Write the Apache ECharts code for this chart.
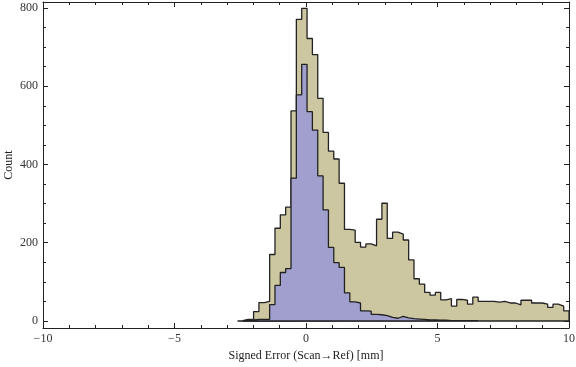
<!DOCTYPE html>
<html><head><meta charset="utf-8">
<script src="https://cdn.jsdelivr.net/npm/echarts@6/dist/echarts.min.js"></script>
<style>html,body{margin:0;padding:0;background:#fff}#c{width:576px;height:367px}</style>
</head><body><div id="c"></div>
<script>
// ---- data ----
const binStart = -2.603;      // left edge of first bin (mm)
const binWidth = 0.2033;      // bin width (mm)
// all-points histogram (tan)
const tanCounts = [1,4,5,24,47,50,170,237,271,291,
  537,771,799,722,681,569,482,434,414,352,
  234,232,201,189,197,192,260,301,211,227,
  222,207,156,108,94,73,66,73,54,57,
  38,55,53,43,61,50,50,50,48,50,
  46,46,41,53,53,46,46,43,35,43,
  38,26];
// subset histogram (blue), starts at bin index 1
const blueStartBin = 1;
const blueCounts = [2,3,4,4,4,42,91,124,134,
  365,578,656,535,488,371,284,188,149,137,
  72,49,46,26,25,17,16,14,9,7,
  12,8,6,5,4,3,3,2,2,1,
  1,1,1,1,1];
const xTicks = [-10,-5,0,5,10];
const yTicks = [0,200,400,600,800];
const yMinorTicks = [50,100,150,250,300,350,450,500,550,650,700,750];
const xName = 'Signed Error (Scan\u2192Ref) [mm]';
const yName = 'Count';

// ---- build step paths ----
function stepPts(start, counts, close){
  const pts = [[start, 0]];
  counts.forEach((c,i)=>pts.push([start + i*binWidth, c]));
  const end = start + counts.length*binWidth;
  pts.push([end, counts[counts.length-1]]);
  pts.push([end, 0]);
  if (close) pts.push([start, 0]);
  return pts;
}
const tanStart = binStart;
const blueStart = binStart + blueStartBin*binWidth;

const font = 'Liberation Serif';
const ink = '#222';
const fmtX = v => v < 0 ? '\u2212' + Math.abs(v) : String(v);

function xAx(pos, labels){
  return {type:'value', position:pos, min:-10, max:10, interval:5, z:10,
    axisLine:{show:true, onZero:false, lineStyle:{color:ink, width:1}},
    axisTick:{show:true, inside:true, length:5, lineStyle:{color:ink}},
    minorTick:{show:true, splitNumber:5, length:3, lineStyle:{color:ink}},
    splitLine:{show:false}, minorSplitLine:{show:false},
    axisLabel:{show:labels, formatter:fmtX, fontFamily:font, fontSize:12, color:'#333', margin:5},
    name: labels ? xName : '', nameLocation:'middle', nameGap:20,
    nameTextStyle:{fontFamily:font, fontSize:12, color:'#222'}};
}
function yAx(pos, labels, ticks, len, line){
  return {type:'value', position:pos, min:-17.9, max:815.3, z:10,
    axisLine:{show:line, onZero:false, lineStyle:{color:ink, width:1}},
    axisTick:{show:true, inside:true, length:len, customValues:ticks, lineStyle:{color:ink}},
    splitLine:{show:false},
    axisLabel:{show:labels, customValues:yTicks, fontFamily:font, fontSize:12, color:'#333', margin:5},
    name: labels ? yName : '', nameLocation:'middle', nameGap:28, nameRotate:90, nameMoveOverlap:false,
    nameTextStyle:{fontFamily:font, fontSize:12, color:'#222'}};
}

const chart = echarts.init(document.getElementById('c'), null, {renderer:'canvas'});
const fillS = (pts, color) => ({type:'line', data:pts, step:'end', symbol:'none', silent:true,
  lineStyle:{width:0, opacity:0}, areaStyle:{color:color, opacity:1, origin:'auto'}, z:2});
const lineS = (pts) => ({type:'line', data:pts, step:'end', symbol:'none', silent:true,
  lineStyle:{width:1.3, color:'#222'}, z:3});
chart.setOption({
  animation:false,
  backgroundColor:'#fff',
  grid:{left:43, right:7, top:2, bottom:39, containLabel:false, outerBoundsMode:'none'},
  xAxis:[xAx('bottom', true), xAx('top', false)],
  yAxis:[yAx('left', true, yTicks, 5, true), yAx('right', false, yTicks, 5, true),
         yAx('left', false, yMinorTicks, 3, false), yAx('right', false, yMinorTicks, 3, false)],
  series:[
    fillS(stepPts(tanStart, tanCounts, false), '#CCC7A0'),
    lineS(stepPts(tanStart, tanCounts, true)),
    Object.assign(fillS(stepPts(blueStart, blueCounts, false), '#A09FCD'), {z:4}),
    Object.assign(lineS(stepPts(blueStart, blueCounts, true)), {z:5})
  ]
});
</script></body></html>
